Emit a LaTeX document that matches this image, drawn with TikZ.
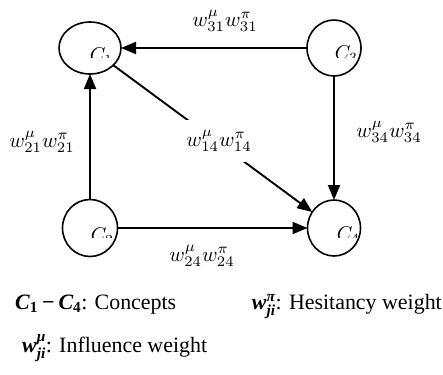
\documentclass[tikz,border=0pt]{standalone}
\usepackage{amsmath}
\usepackage[no-math]{fontspec}
\setmainfont{Liberation Serif}
\usetikzlibrary{arrows.meta,shapes.geometric}
% bold italic symbol set in the text font
\newcommand{\bisym}[1]{\text{\bfseries\itshape #1}}
\newcommand{\bdig}[1]{\text{\bfseries #1}}
\tikzset{
  concept/.style={ellipse, draw, line width=1.6bp, inner sep=0pt, outer sep=0pt},
  link/.style={line width=1.9bp, -{Triangle[length=15bp,width=12bp]}},
  wlab/.style={inner sep=0pt, scale=2.1},
  legend/.style={inner sep=0pt, font=\fontsize{22}{26}\selectfont},
  clab/.style={inner sep=0pt, anchor=north west, scale=2},
}
\begin{document}
\begin{tikzpicture}[x=1bp,y=-1bp]
\useasboundingbox (0,0) rectangle (443,374);

% concept nodes
\node[concept, minimum width=62bp, minimum height=52bp] (c1) at (90,48) {};
\node[concept, minimum width=54bp, minimum height=56bp] (c3) at (334,48) {};
\node[concept, minimum width=55bp, minimum height=57bp] (c2) at (90,228) {};
\node[concept, minimum width=53bp, minimum height=56bp] (c4) at (334,228) {};

% concept names, cut off at the lower edge
\begin{scope}
  \clip (70,40) rectangle (115,57.5);
  \node[clab] (n1) at (89.5,47) {$C_1$};
\end{scope}
\begin{scope}
  \clip (315,38) rectangle (360,57);
  \node[clab] (n3) at (334.5,45) {$C_3$};
\end{scope}
\begin{scope}
  \clip (70,218) rectangle (115,237);
  \node[clab] (n2) at (90.5,227) {$C_2$};
\end{scope}
\begin{scope}
  \clip (315,218) rectangle (360,237);
  \node[clab] (n4) at (336.5,226) {$C_4$};
\end{scope}

% causal links
\draw[link] (c3) -- (c1);
\draw[link] (c2) -- (c1);
\draw[link] (c3) -- (c4);
\draw[link] (c2) -- (c4);
\draw[link] (c1) -- (c4);

% link weights
\node[wlab] (w31) at (225,21) {$w^{\mu}_{31}w^{\pi}_{31}$};
\node[wlab] (w21) at (42,142) {$w^{\mu}_{21}w^{\pi}_{21}$};
\node[wlab] (w34) at (389,132) {$w^{\mu}_{34}w^{\pi}_{34}$};
\node[wlab] (w24) at (202,256) {$w^{\mu}_{24}w^{\pi}_{24}$};
\node[wlab, fill=white, inner ysep=5bp, inner xsep=0.5bp] (w14) at (219,141) {$w^{\mu}_{14}w^{\pi}_{14}$};

% legend
\node[legend, anchor=base west] (k1) at (15,309)
  {$\medmuskip=3.5mu\bisym{C}_{\bdig{1}}\mathbin{\text{\bfseries −}}\bisym{C}_{\bdig{4}}$: Concepts};
\node[legend, anchor=base east] (k2) at (442,309)
  {$\bisym{w}^{\bisym{π}}_{\bisym{ji}}$: Hesitancy weight};
\node[legend, anchor=base west] (k3) at (22,352)
  {$\bisym{w}^{\bisym{μ}}_{\bisym{ji}}$: Influence weight};
\end{tikzpicture}
\end{document}
